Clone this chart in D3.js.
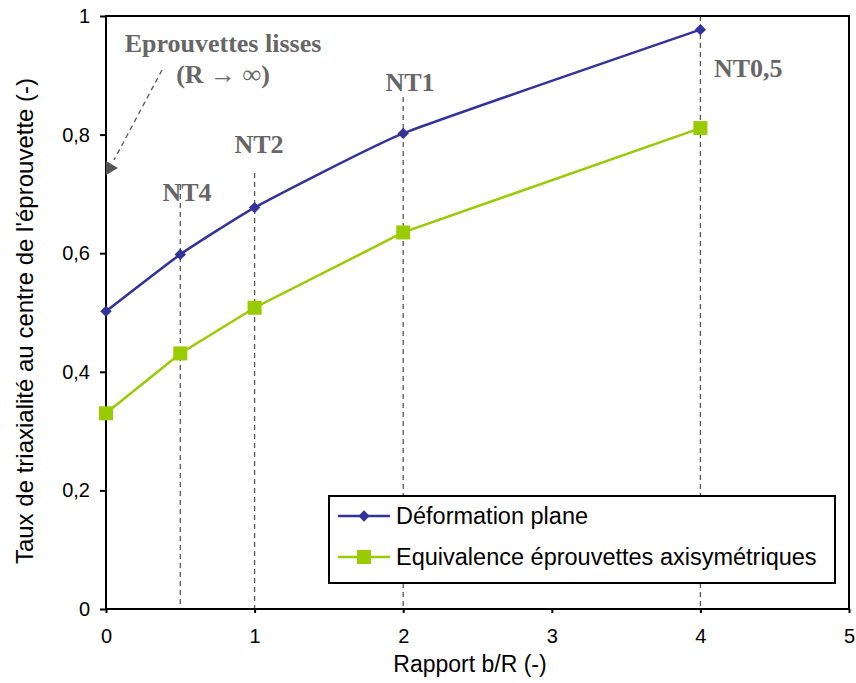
<!DOCTYPE html>
<html><head><meta charset="utf-8">
<script src="https://cdn.jsdelivr.net/npm/d3@7"></script>
<style>body{margin:0;background:#fff}svg{display:block}</style>
</head><body>
<svg id="c" width="856" height="683"></svg>
<script>
const xValues = [0, 0.5, 1, 2, 4];
const planeValues = [0.502, 0.598, 0.677, 0.802, 0.977];
const axiValues = [0.330, 0.431, 0.508, 0.635, 0.811];
const xTicks = [0, 1, 2, 3, 4, 5];
const yTicks = [0, 0.2, 0.4, 0.6, 0.8, 1];
const seriesNames = ["Déformation plane", "Equivalence éprouvettes axisymétriques"];
const notchLabels = ["NT4", "NT2", "NT1", "NT0,5"];
const notchX = [0.5, 1, 2, 4];

const svg = d3.select("#c");
const L = 106, R = 849, T = 16, B = 609;
const x = d3.scaleLinear().domain([0, 5]).range([L, R]);
const y = d3.scaleLinear().domain([0, 1]).range([B, T]);
const fmt = d => d === 0 || d === 1 ? String(d) : d3.format(".1f")(d).replace(".", ",");
const SANS = "Liberation Sans, Arial, sans-serif";
const SERIF = "Liberation Serif, Times New Roman, serif";

// dashed verticals
const vTops = [185, 173, 97, T];
notchX.forEach((v, i) => {
  svg.append("line").attr("x1", x(v)).attr("x2", x(v)).attr("y1", vTops[i]).attr("y2", B)
    .attr("stroke", "#555").attr("stroke-width", 1.3).attr("stroke-dasharray", "5,4");
});

// frame
svg.append("rect").attr("x", L).attr("y", T).attr("width", R - L).attr("height", B - T)
  .attr("fill", "none").attr("stroke", "#000").attr("stroke-width", 2);

// axes
const xAxis = svg.append("g").attr("transform", `translate(0,${B})`)
  .call(d3.axisBottom(x).tickValues(xTicks).tickSize(4).tickPadding(16).tickFormat(d => d));
const yAxis = svg.append("g").attr("transform", `translate(${L},0)`)
  .call(d3.axisLeft(y).tickValues(yTicks).tickSize(6).tickPadding(10).tickFormat(fmt));
[xAxis, yAxis].forEach(g => {
  g.select(".domain").remove();
  g.selectAll(".tick line").attr("stroke", "#000").attr("stroke-width", 2);
  g.selectAll("text").attr("font-family", SANS).attr("font-size", 20).attr("fill", "#000");
});

svg.append("text").attr("x", 470).attr("y", 672).attr("text-anchor", "middle")
  .attr("font-family", SANS).attr("font-size", 23).text("Rapport b/R (-)");
svg.append("text").attr("transform", `translate(33,321) rotate(-90)`).attr("text-anchor", "middle")
  .attr("font-family", SANS).attr("font-size", 24).text("Taux de triaxialité au centre de l'éprouvette (-)");

// lines
const blue = "#333399", green = "#99CC00";
const line1 = d3.line().x((d, i) => x(xValues[i])).y(d => y(d)).curve(d3.curveCardinal.tension(0.6));
const line2 = d3.line().x((d, i) => x(xValues[i])).y(d => y(d));
svg.append("path").attr("d", line2(axiValues)).attr("fill", "none").attr("stroke", green).attr("stroke-width", 2.5);
svg.append("path").attr("d", line1(planeValues)).attr("fill", "none").attr("stroke", blue).attr("stroke-width", 2.5);

svg.selectAll(".d").data(planeValues).enter().append("path")
  .attr("d", d3.symbol().type(d3.symbolSquare).size(64))
  .attr("transform", (d, i) => `translate(${x(xValues[i])},${y(d)}) rotate(45)`)
  .attr("fill", blue);
svg.selectAll(".s").data(axiValues).enter().append("rect")
  .attr("x", (d, i) => x(xValues[i]) - 7).attr("y", d => y(d) - 7).attr("width", 14).attr("height", 14)
  .attr("fill", green);

// notch labels
const labelPos = [[187, 201, "middle"], [259, 153, "middle"], [410, 91, "middle"], [714, 77, "start"]];
const lbl = (t, xx, yy, anchor) => svg.append("text").attr("x", xx).attr("y", yy).attr("text-anchor", anchor)
  .attr("font-family", SERIF).attr("font-weight", "bold").attr("font-size", 26).attr("fill", "#666").text(t);
notchLabels.forEach((t, i) => lbl(t, labelPos[i][0], labelPos[i][1], labelPos[i][2]));
lbl("Eprouvettes lisses", 223, 52, "middle");
lbl("(R → ∞)", 223, 83, "middle");

// arrow
svg.append("line").attr("x1", 162).attr("y1", 70).attr("x2", 114).attr("y2", 160)
  .attr("stroke", "#555").attr("stroke-width", 1.3).attr("stroke-dasharray", "5,4");
svg.append("path").attr("d", "M106,175 L106,161 L118,168 Z").attr("fill", "#555");

// legend
const lg = svg.append("g");
lg.append("rect").attr("x", 329).attr("y", 496).attr("width", 506).attr("height", 87)
  .attr("fill", "#fff").attr("stroke", "#000").attr("stroke-width", 2);
[blue, green].forEach((c, i) => {
  const yy = 516 + i * 41;
  lg.append("line").attr("x1", 338).attr("x2", 390).attr("y1", yy).attr("y2", yy).attr("stroke", c).attr("stroke-width", 2.5);
  if (i === 0) lg.append("path").attr("d", d3.symbol().type(d3.symbolSquare).size(64)).attr("transform", `translate(364,${yy}) rotate(45)`).attr("fill", c);
  else lg.append("rect").attr("x", 357).attr("y", yy - 7).attr("width", 14).attr("height", 14).attr("fill", c);
  lg.append("text").attr("x", 396).attr("y", yy + 8).attr("font-family", SANS).attr("font-size", 23.5)
    .text(seriesNames[i]);
});
</script>
</body></html>
